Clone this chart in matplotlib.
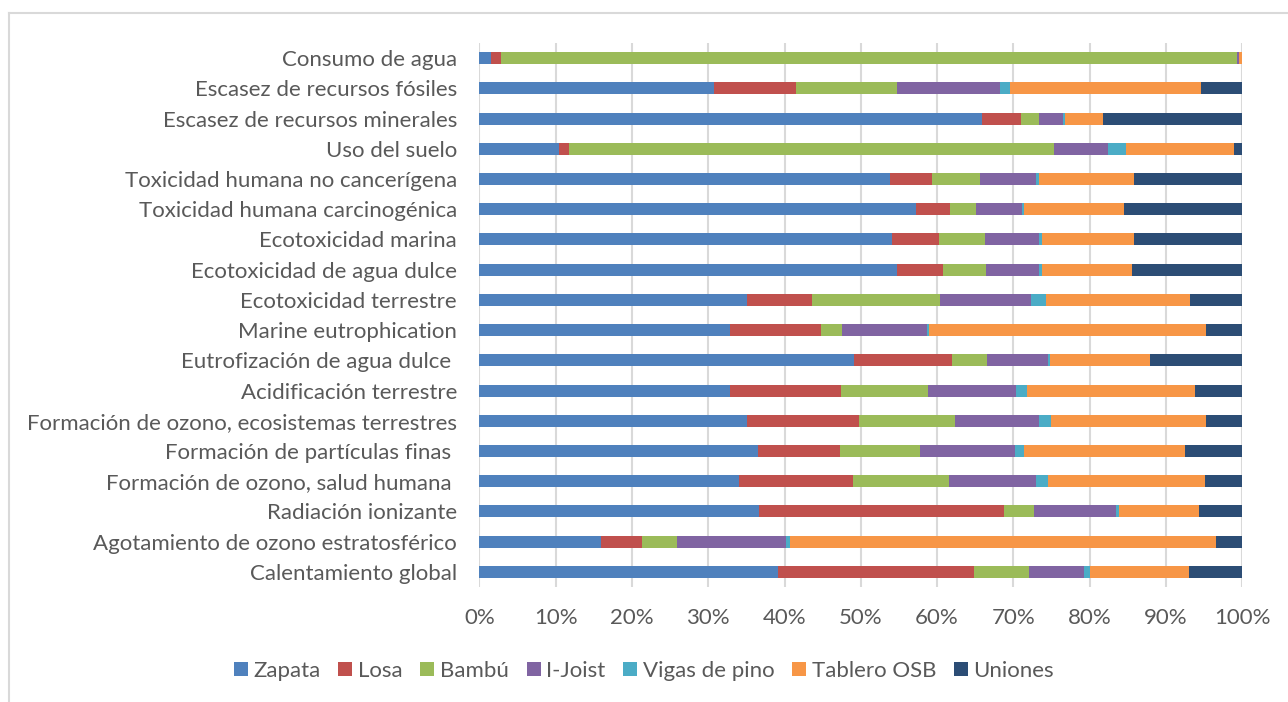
import numpy as np
import matplotlib
matplotlib.use("Agg")
import matplotlib.pyplot as plt
from matplotlib.lines import Line2D

plt.rcParams['font.family'] = ['Lato', 'DejaVu Sans']

categories = [
    "Consumo de agua",
    "Escasez de recursos fósiles",
    "Escasez de recursos minerales",
    "Uso del suelo",
    "Toxicidad humana no cancerígena",
    "Toxicidad humana carcinogénica",
    "Ecotoxicidad marina",
    "Ecotoxicidad de agua dulce",
    "Ecotoxicidad terrestre",
    "Marine eutrophication",
    "Eutrofización de agua dulce ",
    "Acidificación terrestre",
    "Formación de ozono, ecosistemas terrestres",
    "Formación de partículas finas ",
    "Formación de ozono, salud humana ",
    "Radiación ionizante",
    "Agotamiento de ozono estratosférico",
    "Calentamiento global",
]

zapata   = [1.5, 30.8, 65.9, 10.5, 53.8, 57.2, 54.1, 54.8, 35.1, 32.9, 49.1, 32.8, 35.1, 36.5, 34.1, 36.6, 15.9, 39.2]
losa     = [1.3, 10.7, 5.1, 1.3, 5.5, 4.5, 6.2, 6.0, 8.5, 11.9, 12.9, 14.6, 14.7, 10.8, 14.9, 32.2, 5.4, 25.6]
bambu    = [96.5, 13.2, 2.4, 63.5, 6.3, 3.4, 6.0, 5.6, 16.8, 2.7, 4.5, 11.4, 12.6, 10.4, 12.6, 3.9, 4.6, 7.2]
ijoist   = [0.2, 13.5, 3.1, 7.1, 7.4, 6.0, 7.1, 7.0, 11.9, 11.2, 8.1, 11.5, 11.0, 12.5, 11.3, 10.8, 14.3, 7.3]
vigas    = [0.05, 1.4, 0.2, 2.4, 0.4, 0.3, 0.4, 0.3, 2.0, 0.2, 0.2, 1.5, 1.5, 1.2, 1.6, 0.3, 0.5, 0.7]
osb      = [0.3, 25.0, 5.0, 14.1, 12.4, 13.1, 12.0, 11.9, 18.8, 36.4, 13.1, 22.0, 20.3, 21.1, 20.6, 10.5, 55.9, 13.0]
uniones  = [0.1, 5.4, 18.3, 1.1, 14.2, 15.5, 14.2, 14.4, 6.9, 4.7, 12.1, 6.2, 4.8, 7.5, 4.9, 5.7, 3.4, 7.0]

series_names = ["Zapata", "Losa", "Bambú", "I-Joist", "Vigas de pino", "Tablero OSB", "Uniones"]
series_colors = ["#4F81BD", "#C0504D", "#9BBB59", "#8064A2", "#4BACC6", "#F79646", "#2C4D75"]
tick_labels = [f"{v}%" for v in range(0, 101, 10)]

text_color = "#595959"
grid_color = "#D9D9D9"
font_size = 16

data = np.array([zapata, losa, bambu, ijoist, vigas, osb, uniones], dtype=float)
shares = data / data.sum(axis=0) * 100.0

fig = plt.figure(figsize=(12.88, 7.02), dpi=100)
ax = fig.add_axes([479.3 / 1288, 1 - 587 / 702, (1242.3 - 479.3) / 1288, 544 / 702])

y = np.arange(len(categories))
left = np.zeros(len(categories))
for name, color, vals in zip(series_names, series_colors, shares):
    ax.barh(y, vals, left=left, height=0.4, color=color, label=name, zorder=2)
    left += vals

ax.set_xlim(0, 100)
ax.set_ylim(len(categories) - 0.5, -0.5)
ax.set_xticks(range(0, 101, 10))
ax.set_xticklabels(tick_labels)
ax.set_yticks(y)
ax.set_yticklabels(categories)
ax.tick_params(axis='both', length=0, labelsize=font_size, colors=text_color)
ax.tick_params(axis='y', pad=16)
ax.tick_params(axis='x', pad=15)
ax.xaxis.grid(True, color=grid_color, linewidth=1.5, zorder=0)
ax.set_axisbelow(True)
for s in ax.spines.values():
    s.set_visible(False)

leg = fig.legend(loc='center', bbox_to_anchor=(0.5, 1 - 671 / 702), ncol=7,
                 frameon=False, fontsize=font_size, handlelength=0.63, handleheight=0.63,
                 handletextpad=0.25, columnspacing=0.8)
for t in leg.get_texts():
    t.set_color(text_color)

# Chart area border (top and left edges)
fig.add_artist(Line2D([9 / 1288, 1.0], [1 - 13 / 702, 1 - 13 / 702], transform=fig.transFigure,
                      color=grid_color, linewidth=1.5))
fig.add_artist(Line2D([9 / 1288, 9 / 1288], [0.0, 1 - 13 / 702], transform=fig.transFigure,
                      color=grid_color, linewidth=1.5))

fig.savefig("out.png", dpi=100, facecolor="white")
